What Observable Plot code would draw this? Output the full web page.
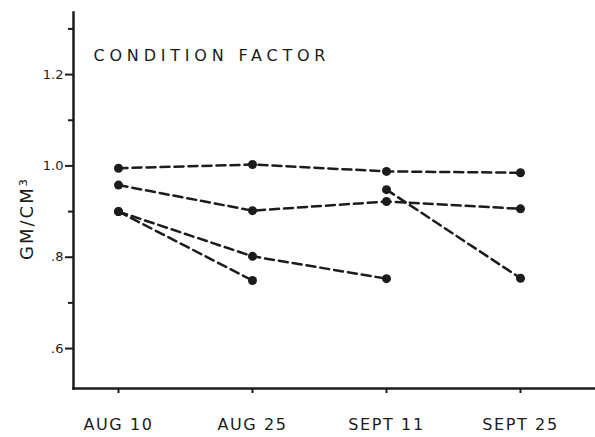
<!DOCTYPE html>
<html>
<head>
<meta charset="utf-8">
<script src="https://cdn.jsdelivr.net/npm/d3@7"></script>
<script src="https://cdn.jsdelivr.net/npm/@observablehq/plot@0.6"></script>
<style>
  html, body { margin: 0; padding: 0; background: #fff; }
  #chart svg { font-family: "DejaVu Sans", sans-serif; display: block; }
</style>
</head>
<body>
<div id="chart"></div>
<script>
const dates = ["AUG 10", "AUG 25", "SEPT 11", "SEPT 25"];
const seriesA = [0.995, 1.003, 0.988, 0.985];
const seriesB = [0.958, 0.902, 0.922, 0.906];
const seriesC = [0.900, 0.802, 0.753, null];
const seriesD = [0.900, 0.749, null, null];
const seriesE = [null, null, 0.948, 0.754];
const majorTicks = [0.6, 0.8, 1.0, 1.2];
const minorTicks = [0.7, 0.9, 1.1, 1.3];
const titleText = "CONDITION FACTOR";
const yLabel = "GM/CM³";

const seriesList = [["A", seriesA], ["B", seriesB], ["C", seriesC], ["D", seriesD], ["E", seriesE]];
const rows = [];
for (const [name, vals] of seriesList) {
  vals.forEach((v, i) => { if (v != null) rows.push({series: name, date: dates[i], value: v}); });
}

const ink = "#1c1c1c";
const fmt = d => d < 1 ? d.toFixed(1).slice(1) : d.toFixed(1);

const chart = Plot.plot({
  width: 595,
  height: 437,
  marginTop: 12,
  marginBottom: 49,
  marginLeft: 73,
  marginRight: 0,
  style: {color: ink, background: "#fff"},
  x: {type: "point", domain: dates, range: [117, 521], padding: 0, axis: null},
  y: {domain: [0.5125, 1.336], axis: null},
  marks: [
    Plot.axisY({ticks: minorTicks, tickSize: 5, tickFormat: () => "", strokeWidth: 2, label: null}),
    Plot.axisY({ticks: majorTicks, tickSize: 8, tickPadding: 2, tickFormat: fmt, fontSize: 13, strokeWidth: 2, label: null}),
    Plot.axisX({tickSize: 5, tickPadding: 25, fontSize: 16, strokeWidth: 2, label: null}),
    Plot.frame({anchor: "left", stroke: ink, strokeWidth: 2.5}),
    Plot.frame({anchor: "bottom", stroke: ink, strokeWidth: 2.5}),
    Plot.line(rows, {x: "date", y: "value", z: "series", stroke: ink, strokeWidth: 2.5, strokeDasharray: "9,5"}),
    Plot.dot(rows, {x: "date", y: "value", r: 4.5, fill: ink, stroke: "none"}),
    Plot.text([titleText], {frameAnchor: "top-left", text: d => d, dx: 20, dy: 43, textAnchor: "start", lineAnchor: "middle", fontSize: 16, fill: ink}),
    Plot.text([yLabel], {frameAnchor: "left", text: d => d, dx: -46, dy: 18, rotate: -90, textAnchor: "middle", lineAnchor: "middle", fontSize: 18, fill: ink})
  ]
});
document.getElementById("chart").appendChild(chart);
d3.select(chart).selectAll("text").each(function() {
  const t = this.textContent;
  if (t === titleText) this.setAttribute("letter-spacing", "4.8");
  if (t === yLabel) this.setAttribute("letter-spacing", "2");
  if (dates.includes(t)) this.setAttribute("letter-spacing", "1.6");
});
</script>
</body>
</html>
